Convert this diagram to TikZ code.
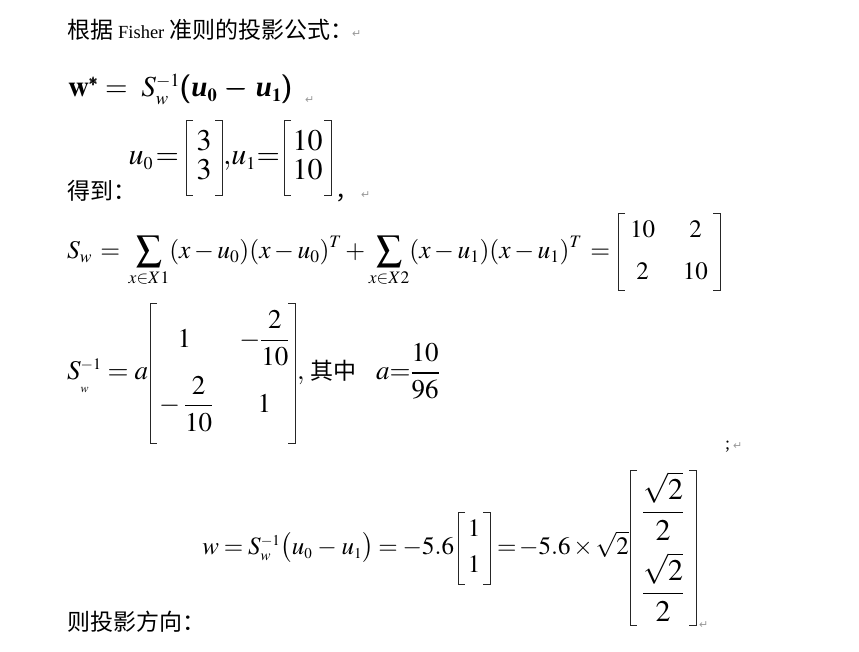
\documentclass[tikz,border=0pt]{standalone}
\usepackage{amsmath}
\usepackage{mathptmx}
\usepackage[no-math]{fontspec}
\setmainfont{Liberation Serif}
\newfontfamily\cjk{Noto Sans CJK SC}
\newfontfamily\symf{DejaVu Sans}
\DeclareMathSizes{18}{18}{12}{9}
\DeclareMathSizes{23}{23}{14}{10}
\DeclareMathSizes{25}{25}{15}{11}
\DeclareMathSizes{25.5}{25.5}{17.5}{12.5}
\DeclareMathSizes{27}{27}{16}{12}
\DeclareMathSizes{29}{29}{18.5}{13.5}
\DeclareMathSizes{30}{30}{18}{13}
\newcommand{\bu}{\text{\bfseries\itshape u}}
\newcommand{\fsz}[1]{\fontsize{#1}{#1}\selectfont}
\newcommand{\rs}[2]{\rule[-#2]{0pt}{\dimexpr #1+#2\relax}}
\newcommand{\mybrk}[1]{%
  \draw[brk] ([xshift=7pt]#1.north west) -- (#1.north west) -- (#1.south west) -- ([xshift=7pt]#1.south west);
  \draw[brk] ([xshift=-7pt]#1.north east) -- (#1.north east) -- (#1.south east) -- ([xshift=-7pt]#1.south east);}
\begin{document}
\begin{tikzpicture}[x=1pt,y=-1pt,
  txt/.style={inner sep=0pt, outer sep=0pt, anchor=base west},
  zh/.style={txt, font=\fsz{23}\cjk},
  mat/.style={inner sep=0pt, outer sep=0pt, anchor=base},
  brk/.style={line width=0.75pt, black!85},
  retmark/.style={text=black!40, font=\symf\fsz{11}, inner sep=0pt, anchor=base west}]
\useasboundingbox (0,0) rectangle (859,652);
% line 1
\node[zh] (l1) at (67,39) {根据\ {\rmfamily\fsz{18.5}Fisher}\ 准则的投影公式：};
\node[retmark] (r1) at (352,38) {↵};
% line 2
\node[txt] (l2) at (68,97) {\fsz{29}\medmuskip=5mu$\mathbf{w}^{\pmb{*}} =\ S_w^{-1}\pmb{(}\bu_{\mathbf{0}}\pmb{-}\bu_{\mathbf{1}}\pmb{)}$};
\node[retmark] (r2) at (305,104) {↵};
% line 3
\node[txt, anchor=base east] (n3a) at (179,165) {\fsz{30}\thickmuskip=1.5mu$u_0=$};
\node[mat, font=\fsz{30}, minimum width=36pt, text height=45pt, text depth=30pt] (m3a) at (204,165)
  {\renewcommand\arraystretch{0.2}$\begin{array}{@{}c@{}}\rs{21.75pt}{6.75pt}3\\\rs{21.75pt}{6.75pt}3\end{array}$};
\node[txt] (n3c) at (223,165) {\fsz{30}$,$};
\node[txt, anchor=base east] (n3b) at (280,165) {\fsz{30}\thickmuskip=0.5mu$u_1=$};
\node[mat, font=\fsz{30}, minimum width=47pt, text height=45pt, text depth=30pt] (m3b) at (307.5,165)
  {\renewcommand\arraystretch{0.2}$\begin{array}{@{}c@{}}\rs{21.75pt}{6.75pt}10\\\rs{21.75pt}{6.75pt}10\end{array}$};
\mybrk{m3a}
\mybrk{m3b}
\node[zh] (t3) at (67,200) {得到：};
\node[zh] (c3) at (335,200) {，};
\node[retmark] (r3) at (361,199) {↵};
% line 4
\node[txt] (n4a) at (67,258.5) {\fsz{25.5}\thickmuskip=6mu$\displaystyle S_w=\sum_{x\in X1}(x-u_0)(x-u_0)^T+\sum_{x\in X2}(x-u_1)(x-u_1)^T=$};
\node[mat, font=\fsz{25}, minimum width=102pt, text height=45.5pt, text depth=31.5pt] (m4) at (669,258.5)
  {\renewcommand\arraystretch{0.2}\setlength\arraycolsep{14pt}$\begin{array}{@{}cc@{}}\rs{27.25pt}{14.75pt}10&2\\\rs{27.25pt}{14.75pt}2&10\end{array}$};
\mybrk{m4}
% line 5
\node[txt] (n5a) at (67,379.75) {\fsz{27}$S^{-1}_{\raisebox{-6pt}{$\scriptscriptstyle w$}}=a$};
\node[mat, font=\fsz{27}, minimum width=145pt, text height=76.75pt, text depth=63.25pt] (m5) at (222.5,379.75)
  {\renewcommand\arraystretch{0.2}\setlength\arraycolsep{13pt}$\begin{array}{@{}cc@{}}\rs{39.5pt}{26pt}1&-\dfrac{2}{10}\\\rs{39.5pt}{26pt}-\dfrac{2}{10}&1\end{array}$};
\mybrk{m5}
\node[txt] (n5b) at (297,379.75) {\fsz{27}$,$\hspace{6pt}{\cjk\fsz{23}其中}};
\node[txt] (n5c) at (376,379.75) {\fsz{27}$\displaystyle a{=}\frac{10}{96}$};
\node[txt] (s5) at (725,449) {\fsz{18};};
\node[retmark] (r5) at (733,449) {↵};
% line 6
\node[txt, anchor=base east] (n6a) at (454,554.25) {\fsz{25}\thickmuskip=3.5mu\medmuskip=3.5mu$w=S_w^{-1}\bigl(u_0-u_1\bigr)=-5.6$};
\node[mat, font=\fsz{25}, minimum width=32pt, text height=42.25pt, text depth=29.75pt] (m6a) at (474,554.25)
  {\renewcommand\arraystretch{0.2}$\begin{array}{@{}c@{}}\rs{24.25pt}{11.75pt}1\\\rs{24.25pt}{11.75pt}1\end{array}$};
\node[txt] (n6b) at (497,554.25) {\fsz{25}\thickmuskip=2mu\medmuskip=2mu$=-5.6\times\sqrt{2}$};
\node[mat, font=\fsz{25}, minimum width=66pt, text height=84.25pt, text depth=70.75pt] (m6b) at (663,554.25)
  {\renewcommand\arraystretch{0.2}$\begin{array}{@{}c@{}}\rs{52.75pt}{28.25pt}\mbox{\fsz{30}$\displaystyle\frac{\sqrt{2}}{2}$}\\\rs{52.75pt}{28.25pt}\mbox{\fsz{30}$\displaystyle\frac{\sqrt{2}}{2}$}\end{array}$};
\mybrk{m6a}
\mybrk{m6b}
\node[retmark] (r6) at (699,628) {↵};
% line 7
\node[zh] (l7) at (67,630) {则投影方向：};
\end{tikzpicture}
\end{document}
